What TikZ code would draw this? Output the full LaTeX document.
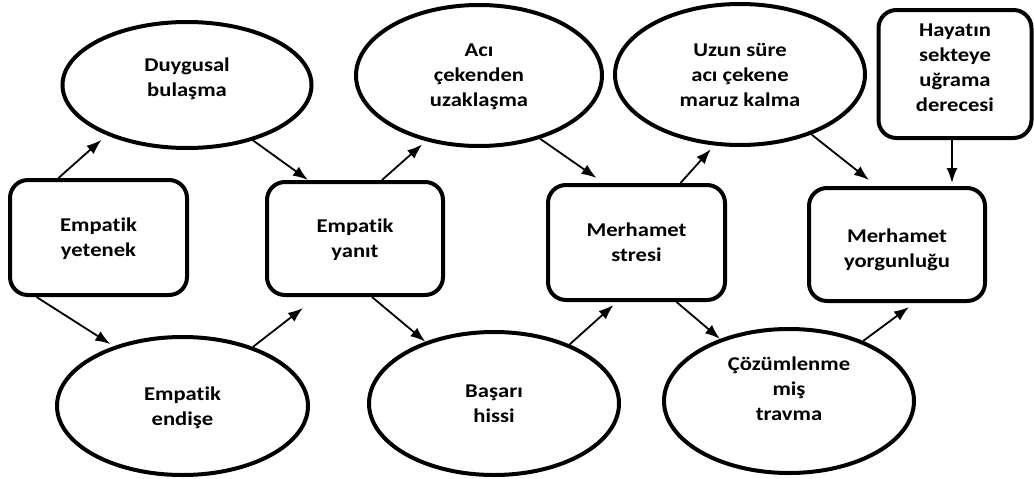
\documentclass[tikz,border=0pt]{standalone}
\usepackage{fontspec}
\setmainfont{Carlito}[FakeStretch=1.16,Ligatures=NoCommon]
\usetikzlibrary{scopes,shapes.geometric,arrows.meta}

\begin{document}
\begin{tikzpicture}[
    x=1pt, y=-1pt,
    every node/.style={font=\fontsize{19.5}{25}\selectfont\bfseries, align=center, text depth=0pt},
    oval/.style={ellipse,draw,line width=4pt,inner sep=0pt},
    stage/.style={rectangle,draw,rounded corners=18pt,line width=4pt,inner sep=0pt},
    link/.style={-{Latex[length=15pt,width=11pt]},line width=1.8pt},
]
\useasboundingbox (0,0) rectangle (1034,479);

\node[stage,minimum width=177pt,minimum height=115pt] (yetenek) at (98.5,237.5) {Empatik\\yetenek};
\node[stage,minimum width=176pt,minimum height=113pt] (yanit) at (355,238.5) {Empatik\\yanıt};
\node[stage,minimum width=177pt,minimum height=115pt] (stres) at (636.5,242.5) {Merhamet\\stresi};
\node[stage,minimum width=176pt,minimum height=113pt,text height=45pt] (yorgun) at (897,244.5) {Merhamet\\yorgunluğu};
\node[stage,minimum width=153pt,minimum height=128pt,text depth=13pt] (hayat) at (955,74) {Hayatın\\sekteye\\uğrama\\derecesi};

\node[oval,minimum width=249pt,minimum height=126pt,text depth=16pt] (duyg) at (187,85) {Duygusal\\bulaşma};
\node[oval,minimum width=251pt,minimum height=138pt] (endise) at (182.5,406) {Empatik\\endişe};
\node[oval,minimum width=246pt,minimum height=141pt] (aci) at (479,75.5) {Acı\\çekenden\\uzaklaşma};
\node[oval,minimum width=250pt,minimum height=143pt] (basari) at (494,403.5) {Başarı\\hissi};
\node[oval,minimum width=250pt,minimum height=141pt] (uzun) at (740,74.5) {Uzun süre\\acı çekene\\maruz kalma};
\node[oval,minimum width=250pt,minimum height=144pt,text depth=24pt] (cozum) at (789,401) {Çözümlenme\\miş\\travma};

{[link]
    \draw[shorten >=7pt] ([xshift=-40pt]yetenek.north) -- (duyg.212);
    \draw (duyg.320) -- ([xshift=-47pt]yanit.north);
    \draw[shorten >=4pt] ([xshift=-62pt]yetenek.south) -- (endise.139);
    \draw (endise.40) -- ([xshift=-52pt,yshift=-11pt]yanit.south);
    \draw[shorten >=5pt] ([xshift=27pt]yanit.north) -- (aci.231);
    \draw ([xshift=17pt]yanit.south) -- (basari.138);
    \draw (aci.314) -- ([xshift=-40pt,yshift=5pt]stres.north);
    \draw (basari.38) -- ([xshift=-23pt,yshift=-3pt]stres.south);
    \draw[shorten >=5pt] ([xshift=44pt]stres.north) -- (uzun.250);
    \draw ([xshift=40pt]stres.south) -- (cozum.138);
    \draw (uzun.320) -- ([xshift=-28pt,yshift=6pt]yorgun.north);
    \draw[shorten >=3pt] ([xshift=-3pt]hayat.south) -- ([xshift=-3pt]hayat.south |- yorgun.north);
    \draw (cozum.39) -- ([xshift=12pt,yshift=-4pt]yorgun.south);
}
\end{tikzpicture}
\end{document}
